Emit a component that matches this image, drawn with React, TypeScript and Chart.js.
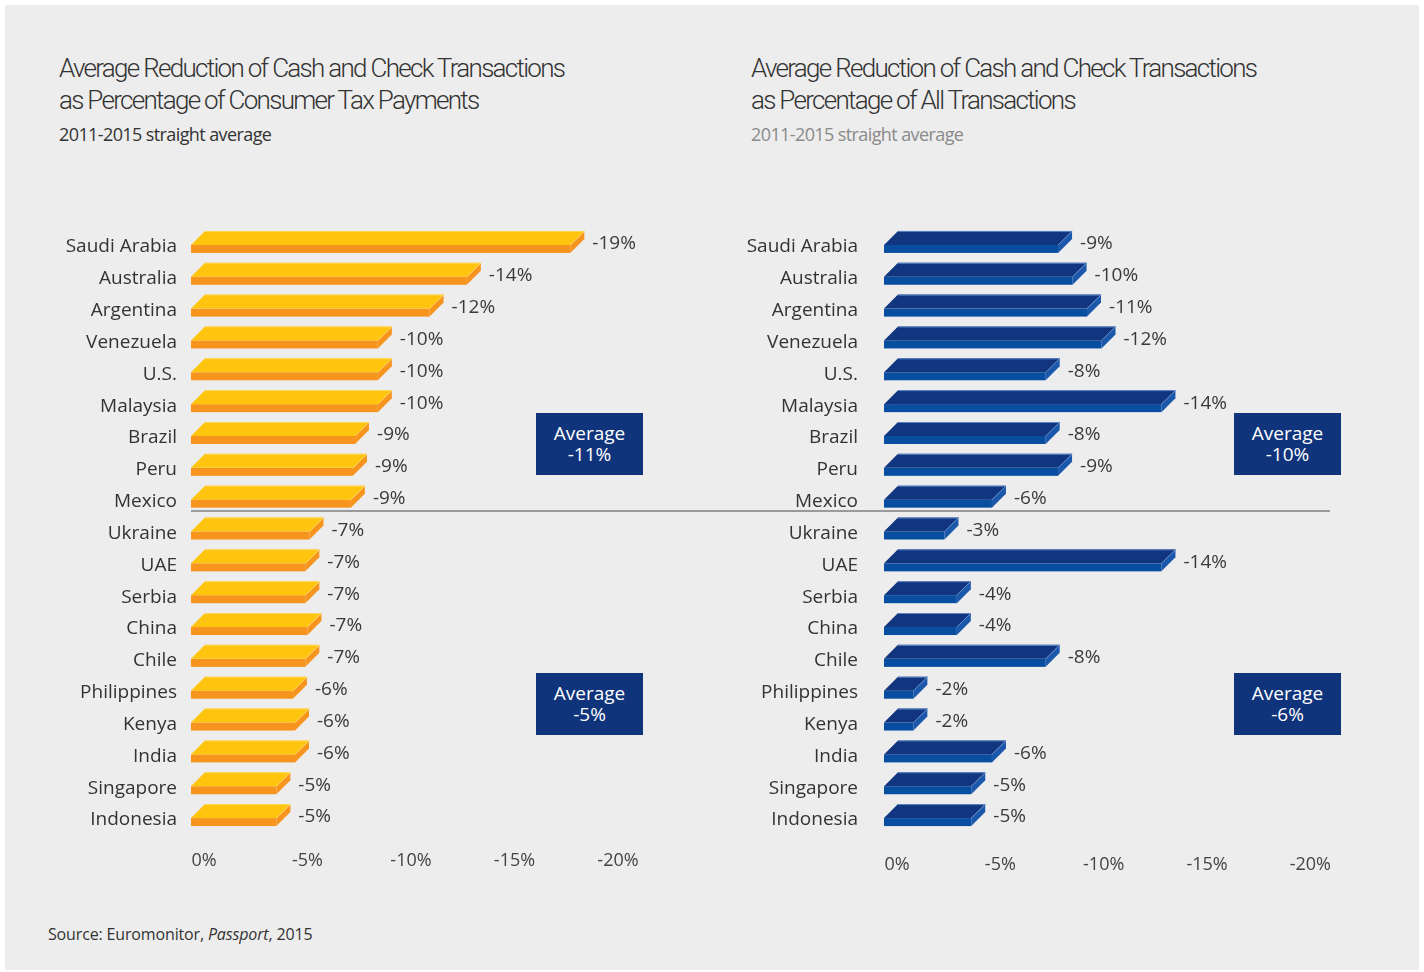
import React, { useEffect, useRef } from "react";
import { Chart, registerables } from "chart.js";

Chart.register(...registerables);

const countries = [
  "Saudi Arabia", "Australia", "Argentina", "Venezuela", "U.S.", "Malaysia",
  "Brazil", "Peru", "Mexico", "Ukraine", "UAE", "Serbia", "China", "Chile",
  "Philippines", "Kenya", "India", "Singapore", "Indonesia",
];
// bar lengths (percent)
const taxValues = [-19.0, -14.0, -12.2, -9.7, -9.7, -9.7, -8.6, -8.5, -8.4, -6.4, -6.2, -6.2, -6.3, -6.2, -5.6, -5.7, -5.7, -4.8, -4.8];
const taxLabels = ["-19%", "-14%", "-12%", "-10%", "-10%", "-10%", "-9%", "-9%", "-9%", "-7%", "-7%", "-7%", "-7%", "-7%", "-6%", "-6%", "-6%", "-5%", "-5%"];
const allValues = [-9.1, -9.8, -10.5, -11.2, -8.5, -14.1, -8.5, -9.1, -5.9, -3.6, -14.1, -4.2, -4.2, -8.5, -2.1, -2.1, -5.9, -4.9, -4.9];
const allLabels = ["-9%", "-10%", "-11%", "-12%", "-8%", "-14%", "-8%", "-9%", "-6%", "-3%", "-14%", "-4%", "-4%", "-8%", "-2%", "-2%", "-6%", "-5%", "-5%"];
const xMin = -20;
const xMax = 0;
const xStep = 5;
const leftAverages = ["-11%", "-5%"];
const rightAverages = ["-10%", "-6%"];

const FONT = "'Open Sans', 'Noto Sans', sans-serif";

const bar3d = {
  id: "bar3d",
  afterDatasetsDraw(chart: any, _args: any, opts: any) {
    const ctx = chart.ctx;
    const meta = chart.getDatasetMeta(0);
    const labels: string[] = opts.labels;
    const d = 14;
    const fh = 8;
    ctx.save();
    meta.data.forEach((bar: any, i: number) => {
      const b = bar.base;
      const e = bar.x;
      const y = bar.y;
      // front face
      ctx.fillStyle = opts.front;
      ctx.fillRect(b, y, e - d - b, fh);
      // top face
      ctx.beginPath();
      ctx.moveTo(b, y);
      ctx.lineTo(b + d, y - d);
      ctx.lineTo(e, y - d);
      ctx.lineTo(e - d, y);
      ctx.closePath();
      ctx.fillStyle = opts.top;
      ctx.fill();
      // side face
      ctx.beginPath();
      ctx.moveTo(e - d, y);
      ctx.lineTo(e, y - d);
      ctx.lineTo(e, y - d + fh);
      ctx.lineTo(e - d, y + fh);
      ctx.closePath();
      ctx.fillStyle = opts.side;
      ctx.fill();
      // highlight edge
      ctx.beginPath();
      ctx.moveTo(b + d, y - d + 0.5);
      ctx.lineTo(e, y - d + 0.5);
      ctx.lineTo(e - d, y);
      ctx.strokeStyle = opts.edge;
      ctx.lineWidth = 1;
      ctx.stroke();
      // value label
      ctx.fillStyle = "#3a3a3a";
      ctx.font = `19px ${FONT}`;
      ctx.textAlign = "left";
      ctx.textBaseline = "middle";
      ctx.fillText(labels[i], e + 8, y - 1);
    });
    ctx.restore();
  },
};

function makeConfig(values: number[], colors: any, yWidth: number, yPad: number, xPad: number) {
  return {
    type: "bar",
    data: {
      labels: countries,
      datasets: [
        {
          data: values,
          backgroundColor: "rgba(0,0,0,0)",
          borderWidth: 0,
          categoryPercentage: 1,
          barPercentage: 1,
        },
      ],
    },
    plugins: [bar3d],
    options: {
      indexAxis: "y",
      animation: false,
      responsive: false,
      maintainAspectRatio: false,
      events: [],
      layout: { padding: { top: 40, right: 40, bottom: 0, left: 0 } },
      plugins: {
        legend: { display: false },
        tooltip: { enabled: false },
        title: { display: false },
        bar3d: colors,
      },
      scales: {
        x: {
          min: xMin,
          max: xMax,
          reverse: true,
          grid: { display: false, drawTicks: false },
          border: { display: false },
          afterFit: (s: any) => { s.height = 60; },
          ticks: {
            stepSize: xStep,
            labelOffset: 13,
            padding: xPad,
            color: "#444",
            font: { family: FONT, size: 18 },
            callback: (v: any) => `${v}%`,
          },
        },
        y: {
          grid: { display: false, drawTicks: false },
          border: { display: false },
          afterFit: (s: any) => { s.width = yWidth; },
          ticks: {
            padding: yPad,
            labelOffset: 2,
            color: "#333",
            font: { family: FONT, size: 19 },
          },
        },
      },
    },
  };
}

function BarChart(props: { values: number[]; colors: any; left: number; width: number; yWidth: number; yPad: number; xPad: number }) {
  const ref = useRef<HTMLCanvasElement>(null);
  useEffect(() => {
    const chart = new Chart(ref.current as HTMLCanvasElement, makeConfig(props.values, props.colors, props.yWidth, props.yPad, props.xPad) as any);
    return () => chart.destroy();
  }, []);
  return (
    <canvas
      ref={ref}
      width={props.width}
      height={705}
      style={{ position: "absolute", left: props.left, top: 189, width: props.width, height: 705 }}
    />
  );
}

const titleStyle: React.CSSProperties = {
  position: "absolute",
  top: 52,
  fontFamily: "Roboto, 'Open Sans', sans-serif",
  fontWeight: 300,
  fontSize: 26,
  lineHeight: "32px",
  color: "#333",
  letterSpacing: "-1.7px",
  whiteSpace: "nowrap",
};

const subStyle: React.CSSProperties = {
  position: "absolute",
  top: 122,
  fontFamily: FONT,
  fontSize: 18,
  lineHeight: "24px",
  letterSpacing: "-0.6px",
  whiteSpace: "nowrap",
};

function AvgBox(props: { left: number; top: number; text: string }) {
  return (
    <div
      style={{
        position: "absolute",
        left: props.left,
        top: props.top,
        width: 107,
        height: 62,
        background: "#0f347c",
        color: "#fff",
        fontFamily: FONT,
        fontSize: 19,
        lineHeight: "21px",
        textAlign: "center",
        display: "flex",
        flexDirection: "column",
        justifyContent: "center",
      }}
    >
      <div>Average</div>
      <div>{props.text}</div>
    </div>
  );
}

export default function App() {
  return (
    <div style={{ position: "fixed", left: 0, top: 0, width: 1424, height: 972, background: "#fff", overflow: "hidden" }}>
      <div style={{ position: "absolute", left: 5, top: 5, width: 1414, height: 965, background: "#ededed" }} />
      <div style={{ ...titleStyle, left: 59 }}>
        Average Reduction of Cash and Check Transactions<br />as Percentage of Consumer Tax Payments
      </div>
      <div style={{ ...subStyle, left: 59, color: "#333" }}>2011-2015 straight average</div>
      <div style={{ ...titleStyle, left: 751 }}>
        Average Reduction of Cash and Check Transactions<br />as Percentage of All Transactions
      </div>
      <div style={{ ...subStyle, left: 751, color: "#8a8a8a" }}>2011-2015 straight average</div>

      <BarChart
        values={taxValues}
        colors={{ top: "#ffc40d", front: "#f7941e", side: "#f7941e", edge: "#ffd75a", labels: taxLabels }}
        left={5}
        width={640}
        yWidth={186}
        yPad={14}
        xPad={16}
      />
      <BarChart
        values={allValues}
        colors={{ top: "#11357e", front: "#074ea1", side: "#1b58ab", edge: "#5d86c8", labels: allLabels }}
        left={700}
        width={638}
        yWidth={184}
        yPad={26}
        xPad={20}
      />
      <div style={{ position: "absolute", left: 191, top: 510, width: 1139, height: 1.5, background: "#9a9a9a" }} />

      <AvgBox left={536} top={413} text={leftAverages[0]} />
      <AvgBox left={536} top={673} text={leftAverages[1]} />
      <AvgBox left={1234} top={413} text={rightAverages[0]} />
      <AvgBox left={1234} top={673} text={rightAverages[1]} />

      <div style={{ position: "absolute", left: 48, top: 922, fontFamily: FONT, fontSize: 16, lineHeight: "24px", color: "#333", letterSpacing: "-0.15px", whiteSpace: "nowrap" }}>
        Source: Euromonitor, <i>Passport</i>, 2015
      </div>
    </div>
  );
}
